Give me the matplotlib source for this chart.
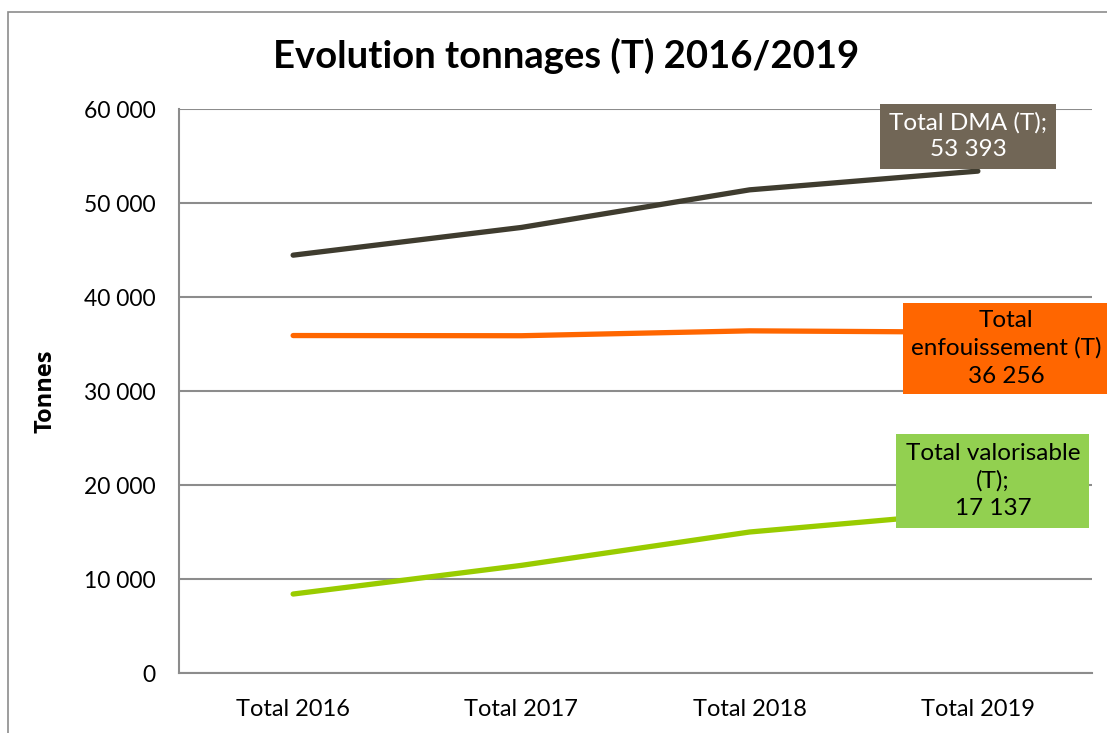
import matplotlib
matplotlib.use("Agg")
import matplotlib.pyplot as plt
from matplotlib.patches import Rectangle
from matplotlib.ticker import FuncFormatter

categories = ["Total 2016", "Total 2017", "Total 2018", "Total 2019"]
dma = [44450, 47400, 51400, 53393]
enfouissement = [35900, 35880, 36400, 36256]
valorisable = [8400, 11450, 15000, 17137]
yticks = [0, 10000, 20000, 30000, 40000, 50000, 60000]

plt.rcParams['font.family'] = ['Lato', 'DejaVu Sans']

W, H = 1107, 733
fig = plt.figure(figsize=(W / 100, H / 100), dpi=100)
fig.patch.set_facecolor('white')

# outer chart frame (extends past the canvas on right and bottom)
fig.patches.append(Rectangle((8 / W, -0.05), 1.2, 1 - 12 / H + 0.05,
                             transform=fig.transFigure, fill=False,
                             edgecolor='#8c8c8c', linewidth=1.2))

ax = fig.add_axes([179 / W, 1 - 673 / H, (1092 - 179) / W, (673 - 109) / H])
x = list(range(len(categories)))

ax.plot(x, dma, color='#3f3c2f', linewidth=3.8, solid_capstyle='round', zorder=3)
ax.plot(x, enfouissement, color='#ff6600', linewidth=3.8, solid_capstyle='round', zorder=3)
ax.plot(x, valorisable, color='#99cc00', linewidth=3.8, solid_capstyle='round', zorder=3)

ax.set_xlim(-0.5, len(categories) - 0.5)
ax.set_ylim(0, 60000)
ax.set_yticks(yticks)
ax.yaxis.set_major_formatter(FuncFormatter(lambda v, p: f"{int(v):,}".replace(",", " ")))
ax.set_xticks(x)
ax.set_xticklabels(categories)
ax.tick_params(axis='both', length=0, colors='black')
ax.tick_params(axis='y', pad=17, labelsize=16.5)
ax.tick_params(axis='x', pad=19, labelsize=17)
ax.grid(axis='y', color='#8c8c8c', linewidth=1.5)
ax.set_axisbelow(True)
for s in ['top', 'right']:
    ax.spines[s].set_visible(False)
for s in ['left', 'bottom']:
    ax.spines[s].set_color('#8c8c8c')
    ax.spines[s].set_linewidth(1.5)

ax.set_ylabel("Tonnes", fontsize=17, fontweight='bold', family=['Open Sans', 'DejaVu Sans'])
ax.yaxis.set_label_coords((58 - 179) / 913, 0.5)

fig.text(566 / W, 1 - 56 / H, "Evolution tonnages (T) 2016/2019", ha='center', va='center',
         fontsize=27.5, fontweight='bold')

def fmt(v):
    return f"{int(v):,}".replace(",", " ")

# data labels anchored to the last point
ax.annotate(f"Total DMA (T);\n{fmt(dma[-1])}", xy=(3, dma[-1]), xytext=(-10, 35),
            textcoords='offset pixels', ha='center', va='center', fontsize=17.5,
            color='white', linespacing=1.3,
            bbox=dict(boxstyle='square,pad=0.36', facecolor='#716656', edgecolor='none'),
            zorder=5, annotation_clip=False)
ax.annotate(f"Total\nenfouissement (T)\n{fmt(enfouissement[-1])}", xy=(3, enfouissement[-1]),
            xytext=(28, -16), textcoords='offset pixels', ha='center', va='center',
            fontsize=17.5, color='black', linespacing=1.38,
            bbox=dict(boxstyle='square,pad=0.3', facecolor='#ff6600', edgecolor='none'),
            zorder=5, annotation_clip=False)
ax.annotate(f"Total valorisable\n(T);\n{fmt(valorisable[-1])}", xy=(3, valorisable[-1]),
            xytext=(15, 31), textcoords='offset pixels', ha='center', va='center',
            fontsize=17.5, color='black', linespacing=1.35,
            bbox=dict(boxstyle='square,pad=0.38', facecolor='#92d050', edgecolor='none'),
            zorder=5, annotation_clip=False)

fig.savefig("out.png", dpi=100)
